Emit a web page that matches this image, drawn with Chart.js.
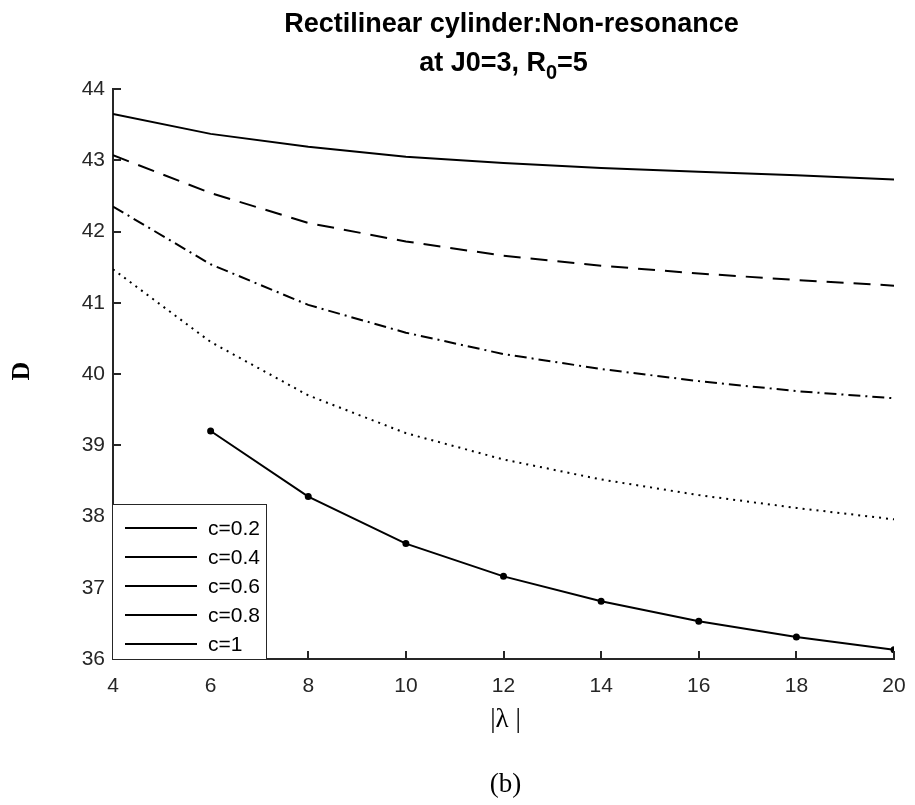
<!DOCTYPE html>
<html>
<head>
<meta charset="utf-8">
<script src="https://cdn.jsdelivr.net/npm/chart.js@4.4.1/dist/chart.umd.min.js"></script>
<style>
  html, body { margin: 0; padding: 0; background: #fff; }
  #wrap { width: 915px; height: 805px; }
</style>
</head>
<body>
<div id="wrap"><canvas id="chart" width="915" height="805"></canvas></div>
<script>
// lambda values (x axis)
var lambdaVals = [4, 6, 8, 10, 12, 14, 16, 18, 20];
var xTicks = [4, 6, 8, 10, 12, 14, 16, 18, 20];
var yTicks = [36, 37, 38, 39, 40, 41, 42, 43, 44];

// D values per curve
var c02 = [43.65, 43.37, 43.19, 43.05, 42.96, 42.89, 42.84, 42.79, 42.73];
var c04 = [43.07, 42.54, 42.12, 41.86, 41.66, 41.52, 41.41, 41.32, 41.24];
var c06 = [42.35, 41.54, 40.97, 40.58, 40.28, 40.07, 39.90, 39.76, 39.66];
var c08 = [41.47, 40.45, 39.70, 39.17, 38.80, 38.52, 38.30, 38.12, 37.96];
var c10 = [null, 39.20, 38.28, 37.62, 37.16, 36.81, 36.53, 36.31, 36.13];

var seriesNames = ["c=0.2", "c=0.4", "c=0.6", "c=0.8", "c=1"];

var SANS = "Arial, 'Liberation Sans', sans-serif";
var SERIF = "'Times New Roman', 'Liberation Serif', serif";

function pts(arr) {
    var out = [];
    for (var i = 0; i < lambdaVals.length; i++) {
        if (arr[i] !== null) out.push({ x: lambdaVals[i], y: arr[i] });
    }
    return out;
}

function ds(label, arr, dash, withDots) {
    return {
        label: label,
        data: pts(arr),
        borderColor: "#000",
        backgroundColor: "#000",
        borderWidth: 2,
        borderDash: dash,
        pointRadius: withDots ? 2.5 : 0,
        pointHoverRadius: 0,
        tension: 0,
        fill: false
    };
}

// title, axis labels, inward ticks and the boxed legend
var decorPlugin = {
    id: "decor",
    afterDraw: function (chart) {
        var ctx = chart.ctx;
        var ca = chart.chartArea;
        var xs = chart.scales.x, ys = chart.scales.y;
        var cx = (ca.left + ca.right) / 2;
        ctx.save();

        // inward ticks
        ctx.strokeStyle = "#262626";
        ctx.lineWidth = 2;
        xTicks.forEach(function (v) {
            var px = Math.round(xs.getPixelForValue(v));
            ctx.beginPath(); ctx.moveTo(px, ca.bottom); ctx.lineTo(px, ca.bottom - 8); ctx.stroke();
        });
        yTicks.forEach(function (v) {
            var py = Math.round(ys.getPixelForValue(v));
            ctx.beginPath(); ctx.moveTo(ca.left, py); ctx.lineTo(ca.left + 8, py); ctx.stroke();
        });

        // title
        ctx.fillStyle = "#000";
        ctx.textBaseline = "alphabetic";
        ctx.font = "bold 27px " + SANS;
        ctx.textAlign = "center";
        ctx.fillText("Rectilinear cylinder:Non-resonance", cx + 8, 32);
        var p1 = "at J0=3, R", sub = "0", p2 = "=5";
        var w1 = ctx.measureText(p1).width;
        ctx.font = "bold 20px " + SANS;
        var ws = ctx.measureText(sub).width;
        ctx.font = "bold 27px " + SANS;
        var w2 = ctx.measureText(p2).width;
        var sx = cx - (w1 + ws + w2) / 2;
        ctx.textAlign = "left";
        ctx.fillText(p1, sx, 71);
        ctx.font = "bold 20px " + SANS;
        ctx.fillText(sub, sx + w1, 79);
        ctx.font = "bold 27px " + SANS;
        ctx.fillText(p2, sx + w1 + ws, 71);

        // y label
        ctx.save();
        ctx.translate(22, 371);
        ctx.rotate(-Math.PI / 2);
        ctx.textAlign = "center";
        ctx.textBaseline = "middle";
        ctx.font = "bold 26px " + SERIF;
        ctx.fillText("D", 0, 0);
        ctx.restore();

        // x label and caption
        ctx.textAlign = "center";
        ctx.textBaseline = "middle";
        ctx.font = "27px " + SERIF;
        ctx.fillText("|\u03bb |", cx + 2, 720);
        ctx.font = "27px " + SERIF;
        ctx.fillText("(b)", cx + 2, 785);

        // legend box
        var lx = 112, ly = 504, lw = 154, lh = 155;
        ctx.fillStyle = "#fff";
        ctx.fillRect(lx, ly, lw, lh);
        ctx.strokeStyle = "#262626";
        ctx.lineWidth = 1;
        ctx.strokeRect(lx + 0.5, ly + 0.5, lw, lh);
        ctx.font = "21px " + SANS;
        ctx.textAlign = "left";
        ctx.fillStyle = "#000";
        ctx.strokeStyle = "#000";
        ctx.lineWidth = 2;
        seriesNames.forEach(function (name, i) {
            var yy = ly + 24 + i * 29;
            ctx.beginPath(); ctx.moveTo(lx + 13, yy); ctx.lineTo(lx + 85, yy); ctx.stroke();
            ctx.fillText(name, lx + 96, yy + 1);
        });
        ctx.restore();
    }
};

new Chart(document.getElementById("chart"), {
    type: "line",
    data: {
        datasets: [
            ds(seriesNames[0], c02, [], false),
            ds(seriesNames[1], c04, [17, 10], false),
            ds(seriesNames[2], c06, [12, 5, 2, 5], false),
            ds(seriesNames[3], c08, [2, 5], false),
            ds(seriesNames[4], c10, [], true)
        ]
    },
    options: {
        responsive: false,
        animation: false,
        layout: { padding: { left: 0, right: 21, top: 89, bottom: 0 } },
        plugins: {
            legend: { display: false },
            title: { display: false },
            tooltip: { enabled: false }
        },
        scales: {
            x: {
                type: "linear",
                min: 4, max: 20,
                afterFit: function (s) { s.height = 146; s.paddingLeft = 0; s.paddingRight = 0; },
                afterBuildTicks: function (s) { s.ticks = xTicks.map(function (v) { return { value: v }; }); },
                grid: { drawOnChartArea: false, drawTicks: false },
                border: { color: "#262626", width: 2 },
                ticks: { color: "#262626", padding: 15, maxRotation: 0, font: { family: SANS, size: 21 } }
            },
            y: {
                type: "linear",
                min: 36, max: 44,
                afterFit: function (s) { s.width = 113; s.paddingTop = 0; s.paddingBottom = 0; },
                afterBuildTicks: function (s) { s.ticks = yTicks.map(function (v) { return { value: v }; }); },
                grid: { drawOnChartArea: false, drawTicks: false },
                border: { color: "#262626", width: 2 },
                ticks: { color: "#262626", padding: 8, font: { family: SANS, size: 21 } }
            }
        }
    },
    plugins: [decorPlugin]
});
</script>
</body>
</html>
